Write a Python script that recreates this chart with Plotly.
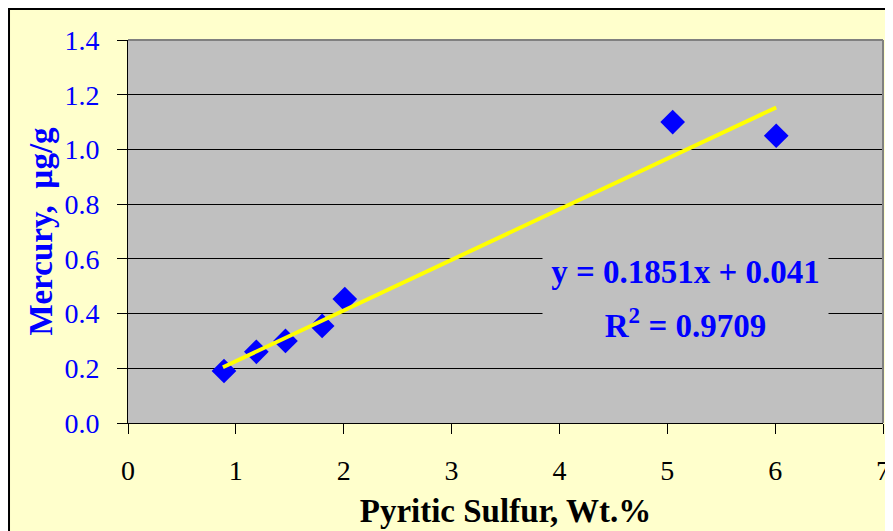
import plotly.graph_objects as go

sulfur = [0.89, 1.19, 1.46, 1.80, 2.01, 5.05, 6.01]
mercury = [0.19, 0.26, 0.30, 0.355, 0.453, 1.10, 1.05]
slope, intercept = 0.1851, 0.041
fit_x = [0.88, 6.01]
fit_y = [slope * v + intercept for v in fit_x]
eq_lines = ["y = 0.1851x + 0.041", "R<sup>2</sup> = 0.9709"]
x_ticks = [0, 1, 2, 3, 4, 5, 6, 7]
y_ticks = [0.0, 0.2, 0.4, 0.6, 0.8, 1.0, 1.2, 1.4]

FONT = "Liberation Serif"
fig = go.Figure()
fig.add_trace(go.Scatter(x=sulfur, y=mercury, mode="markers",
                         marker=dict(symbol="diamond", size=19, color="#0000FF"),
                         showlegend=False))
fig.add_trace(go.Scatter(x=fit_x, y=fit_y, mode="lines",
                         line=dict(color="#FFFF00", width=4), showlegend=False))

# outer frame lines (top / left)
fig.add_shape(type="line", xref="paper", yref="paper", x0=-0.1589, x1=1.2,
              y0=1.0809, y1=1.0809, line=dict(color="black", width=2), layer="below")
fig.add_shape(type="line", xref="paper", yref="paper", x0=-0.1576, x1=-0.1576,
              y0=-0.6, y1=1.0822, line=dict(color="black", width=2), layer="below")
# plot border top/right
fig.add_shape(type="line", xref="paper", yref="paper", x0=0, x1=1, y0=1, y1=1,
              line=dict(color="#808080", width=2))
fig.add_shape(type="line", xref="paper", yref="paper", x0=1, x1=1, y0=0, y1=1,
              line=dict(color="#808080", width=2))

ann_y = [0.552, 0.365]
for txt, yy in zip(eq_lines, ann_y):
    fig.add_annotation(x=5.17, y=yy, xref="x", yref="y", text="<b>" + txt + "</b>",
                       showarrow=False, bgcolor="#C0C0C0", width=283,
                       font=dict(family=FONT, size=33, color="#0000FF"))

fig.update_layout(
    width=885, height=523,
    margin=dict(l=120, r=10, t=32, b=108),
    paper_bgcolor="#FFFFCC", plot_bgcolor="#C0C0C0",
    font=dict(family=FONT),
    xaxis=dict(range=[0, 7], tickvals=x_ticks, showgrid=False, zeroline=False,
               showline=True, linecolor="black", linewidth=1, automargin=False,
               ticks="outside", ticklen=10, tickcolor="black", ticklabelstandoff=12,
               tickfont=dict(family=FONT, size=28, color="black"),
               title=dict(text="<b>Pyritic Sulfur, Wt.%</b>", standoff=14,
                          font=dict(family=FONT, size=33, color="black"))),
    yaxis=dict(range=[0, 1.4], tickvals=y_ticks, tickformat=".1f",
               showgrid=True, gridcolor="black", gridwidth=1, zeroline=False,
               showline=True, linecolor="black", linewidth=1, automargin=False,
               ticks="outside", ticklen=10, tickcolor="black", ticklabelstandoff=12,
               tickfont=dict(family=FONT, size=28, color="#0000FF"),
               title=dict(text="<b>Mercury,  µg/g</b>", standoff=1,
                          font=dict(family=FONT, size=33, color="#0000FF"))),
)
fig.write_html("out.html")
